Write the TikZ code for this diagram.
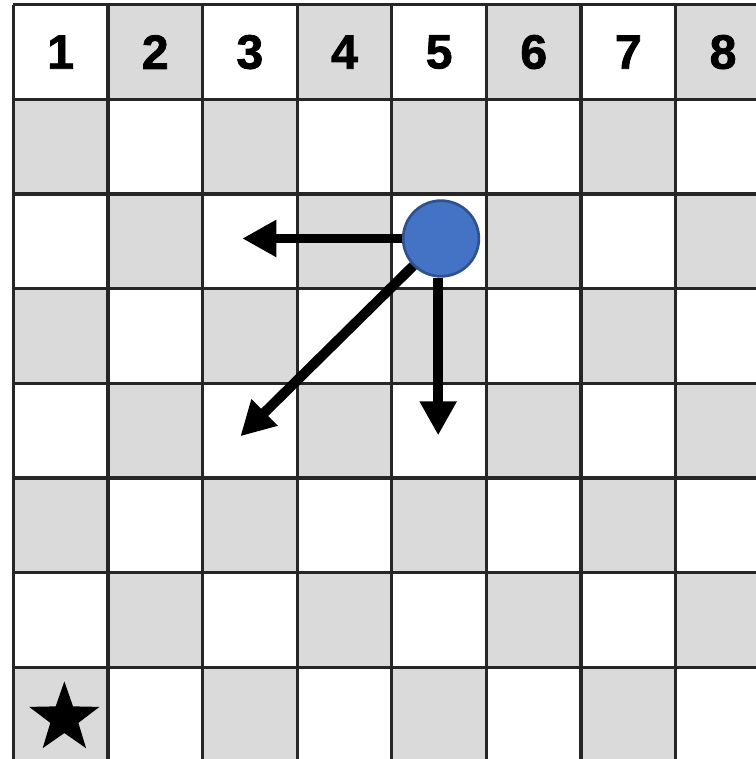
\documentclass[tikz,border=0pt]{standalone}
\usepackage{fontspec}
\setmainfont{Liberation Sans}
\newfontfamily\numfont[BoldFeatures={FakeBold=1.6}]{Liberation Sans}
\usetikzlibrary{arrows.meta,shapes.geometric}
\definecolor{cellgray}{RGB}{218,218,218}
\definecolor{pieceblue}{RGB}{68,114,196}
\definecolor{pieceedge}{RGB}{47,82,143}
\tikzset{
  grayfield/.style={fill=cellgray},
  gridline/.style={draw=black!85,line width=1pt},
  colnum/.style={font=\numfont\fontsize{14.5}{16}\selectfont\bfseries},
  move/.style={line width=3pt,-{Triangle[width=0.37cm,length=0.36cm]}}
}

\begin{document}
\begin{tikzpicture}
\useasboundingbox (-0.14,0.05) rectangle (7.84,-7.97);
% board
\foreach \c in {1,...,8}{
  \foreach \r in {0,...,7}{
    \pgfmathparse{int(mod(\c+\r,2))}
    \ifnum\pgfmathresult=0
      \fill[grayfield] (\c-1,-\r) rectangle (\c,-\r-1);
    \fi
  }
}
\draw[gridline] (0,0) grid (8,-8);
\foreach \c in {1,...,8}
  \node[colnum] (h\c) at (\c-0.5,-0.5) {\c};

% piece and moves
\node[circle,fill=pieceblue,draw=pieceedge,line width=0.8pt,minimum size=0.8cm] (piece) at (4.52,-2.47) {};
\coordinate (left) at (2.42,-2.47);
\coordinate (down) at (4.49,-4.55);
\coordinate (diag) at (2.4,-4.56);
\draw[move] (piece) -- (left);
\draw[move] (piece.south -| down) -- (down);
\draw[move] (piece) -- (diag);

% goal
\node[star,star points=5,star point ratio=2.5,fill=black,minimum size=0.78cm,inner sep=0pt] (goal) at (0.54,-7.54) {};
\end{tikzpicture}
\end{document}
